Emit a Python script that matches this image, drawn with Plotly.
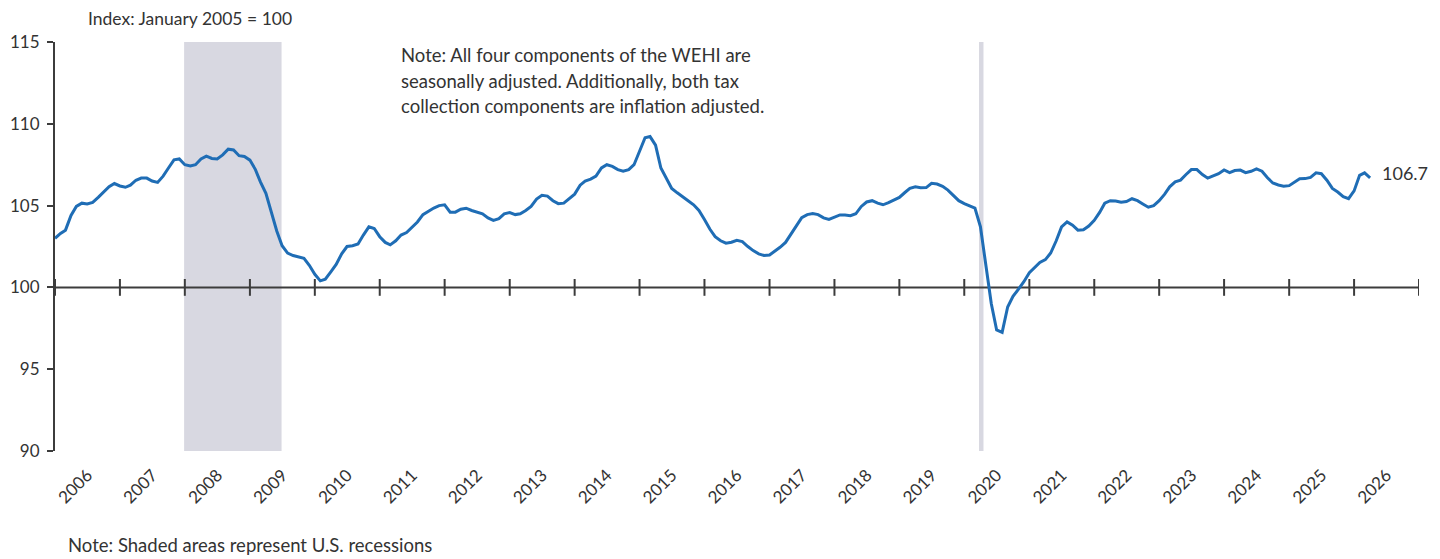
import pandas as pd
import plotly.graph_objects as go

# WEHI monthly index (Jan 2006 onward)
wehi = [
    103.0, 103.3, 103.5, 104.4, 104.95, 105.15, 105.1, 105.2, 105.5, 105.85, 106.15, 106.35,
    106.2, 106.12, 106.25, 106.55, 106.68, 106.68, 106.5, 106.42, 106.8, 107.3, 107.8, 107.85,
    107.5, 107.42, 107.5, 107.85, 108.02, 107.88, 107.85, 108.1, 108.45, 108.4, 108.05, 108.0,
    107.78, 107.2, 106.45, 105.75, 104.6, 103.45, 102.55, 102.1, 101.95, 101.85, 101.78, 101.35,
    100.8, 100.4, 100.5, 100.95, 101.4, 102.05, 102.5, 102.55, 102.65, 103.2, 103.7, 103.6,
    103.1, 102.75, 102.6, 102.85, 103.2, 103.35, 103.65, 104.0, 104.45, 104.65, 104.85, 105.0,
    105.05, 104.6, 104.6, 104.78, 104.84, 104.7, 104.6, 104.5, 104.25, 104.1, 104.2, 104.5,
    104.57, 104.45, 104.5, 104.7, 104.95, 105.4, 105.63, 105.58, 105.3, 105.12, 105.15, 105.4,
    105.7, 106.25, 106.5, 106.62, 106.8, 107.3, 107.5, 107.4, 107.2, 107.1, 107.2, 107.5,
    108.3, 109.15, 109.22, 108.7, 107.3, 106.7, 106.05, 105.78, 105.56, 105.3, 105.05, 104.7,
    104.15, 103.55, 103.1, 102.85, 102.7, 102.76, 102.88, 102.8, 102.5, 102.25, 102.05, 101.95,
    101.98, 102.2, 102.45, 102.75, 103.25, 103.8, 104.26, 104.45, 104.52, 104.45, 104.25, 104.15,
    104.3, 104.43, 104.42, 104.38, 104.5, 104.95, 105.22, 105.3, 105.15, 105.05, 105.18, 105.35,
    105.5, 105.8, 106.05, 106.15, 106.09, 106.1, 106.36, 106.32, 106.18, 105.95, 105.65, 105.3,
    105.12, 105.0, 104.85, 103.7, 101.5, 99.0, 97.4, 97.25, 98.8, 99.45, 99.9, 100.35,
    100.9, 101.25, 101.52, 101.7, 102.1, 102.85, 103.7, 104.0, 103.8, 103.5, 103.52, 103.75,
    104.1, 104.6, 105.15, 105.3, 105.28, 105.2, 105.25, 105.42, 105.3, 105.1, 104.9, 105.0,
    105.3, 105.7, 106.15, 106.45, 106.56, 106.9, 107.2, 107.2, 106.9, 106.68, 106.83, 106.95,
    107.18, 107.02, 107.14, 107.17, 107.01, 107.1, 107.25, 107.1, 106.7, 106.38, 106.26, 106.19,
    106.22, 106.45, 106.64, 106.65, 106.72, 107.0, 106.95, 106.55, 106.05, 105.83, 105.55, 105.42,
    105.9, 106.85, 107.0, 106.7,
]
months = pd.date_range("2006-01-01", periods=len(wehi), freq="MS")

years = list(range(2006, 2028))
year_starts = [f"{y}-01-01" for y in years]

# recession shading (start, end)
rec_start = ["2007-12-28", "2020-03-24"]
rec_end = ["2009-06-28", "2020-04-18"]

note_lines = [
    "Note: All four components of the WEHI are",
    "seasonally adjusted. Additionally, both tax",
    "collection components are inflation adjusted.",
]

font = "Lato"
ink = "#333333"
axis_col = "#3c3c3c"
blue = "#1f6db5"

fig = go.Figure()

# baseline at 100 with year ticks crossing it
fig.add_trace(go.Scatter(
    x=year_starts, y=[100] * len(year_starts),
    mode="lines+markers",
    line=dict(color=axis_col, width=2),
    marker=dict(symbol="line-ns", size=12, line=dict(width=2, color=axis_col)),
    hoverinfo="skip", showlegend=False,
))

fig.add_trace(go.Scatter(
    x=months, y=wehi, mode="lines",
    line=dict(color=blue, width=3),
    showlegend=False,
))

for s, e in zip(rec_start, rec_end):
    fig.add_shape(type="rect", xref="x", yref="y", x0=s, x1=e, y0=90, y1=115,
                  fillcolor="#d8d8e1", line=dict(width=0), layer="below")

fig.add_annotation(x=months[-1], y=wehi[-1], text=f"{wehi[-1]:.1f}",
                   xanchor="left", yanchor="middle", xshift=10, yshift=5,
                   showarrow=False, font=dict(family=font, size=18, color=ink))

fig.add_annotation(xref="paper", yref="paper", x=0.0227, y=1.0575,
                   text="Index: January 2005 = 100", xanchor="left", yanchor="middle",
                   showarrow=False, font=dict(family=font, size=17.5, color=ink))

for i, line in enumerate(note_lines):
    fig.add_annotation(xref="paper", yref="paper", x=0.252,
                       y=(451 - (55 + 25.5 * i)) / 409,
                       text=line, xanchor="left", yanchor="middle", showarrow=False,
                       font=dict(family=font, size=18.5, color=ink))

fig.add_annotation(xref="paper", yref="paper", x=0.008, y=-0.2298,
                   text="Note: Shaded areas represent U.S. recessions",
                   xanchor="left", yanchor="middle", showarrow=False,
                   font=dict(family=font, size=18.5, color=ink))

# the page body has an 8px margin, so the figure is sized to fit inside it
fig.update_layout(
    width=1432, height=551,
    margin=dict(l=47, r=21, t=34, b=108),
    plot_bgcolor="white", paper_bgcolor="white",
    font=dict(family=font, color=ink),
    xaxis=dict(
        type="date", range=["2006-01-01", "2027-01-01"],
        tick0="2006-01-01", dtick="M12", tickformat="%Y",
        ticklabelmode="period", tickangle=-45,
        showline=False, ticks="", showgrid=False, zeroline=False,
        tickfont=dict(family=font, size=17, color=ink),
        ticklabelstandoff=10, automargin=False,
    ),
    yaxis=dict(
        range=[90, 115], dtick=5, tick0=90,
        showline=True, linecolor=axis_col, linewidth=2,
        ticks="outside", ticklen=6, tickwidth=2, tickcolor=axis_col,
        showgrid=False, zeroline=False,
        tickfont=dict(family=font, size=17, color=ink),
        ticklabelstandoff=4, automargin=False,
    ),
)

fig.write_html("out.html")
